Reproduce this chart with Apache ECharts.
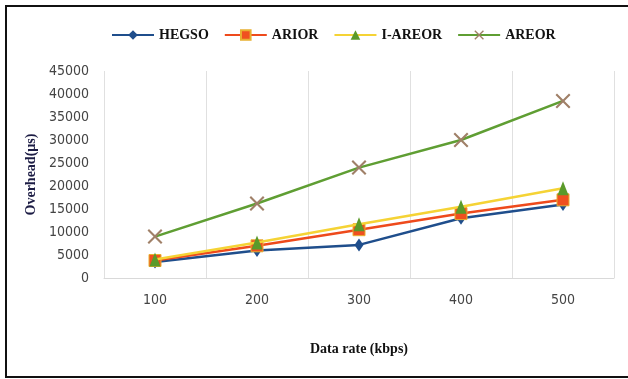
<!DOCTYPE html>
<html>
<head>
<meta charset="utf-8">
<script src="https://cdn.jsdelivr.net/npm/echarts@6/dist/echarts.min.js"></script>
<style>
html,body{margin:0;padding:0;background:#fff;}
#c{width:628px;height:379px;}
</style>
</head>
<body>
<div id="c"></div>
<script>
const categories = ['100', '200', '300', '400', '500'];
const hegso  = [3500, 6000, 7200, 13000, 16000];
const arior  = [3800, 7000, 10500, 14000, 17000];
const iareor = [4000, 7700, 11700, 15500, 19500];
const areor  = [9000, 16200, 24000, 30000, 38500];
const yTicks = [0, 5000, 10000, 15000, 20000, 25000, 30000, 35000, 40000, 45000];

const xPath = 'path://M0,1 L1,0 L5,4 L9,0 L10,1 L6,5 L10,9 L9,10 L5,6 L1,10 L0,9 L4,5 Z';
const serif = "'Liberation Serif','Times New Roman',serif";
const narrow = "'Liberation Sans Narrow','Arial Narrow','DejaVu Sans Condensed',sans-serif";

const chart = echarts.init(document.getElementById('c'), null, {renderer: 'canvas'});
chart.setOption({
  animation: false,
  backgroundColor: '#fff',
  graphic: [{
    type: 'rect', silent: true, z: 100,
    shape: {x: 6, y: 6, width: 640, height: 371},
    style: {fill: 'none', stroke: '#111', lineWidth: 2}
  }],
  legend: {
    top: 23, left: 106,
    itemWidth: 42, itemHeight: 12, itemGap: 15,
    textStyle: {fontFamily: serif, fontWeight: 'bold', fontSize: 14, color: '#111'},
    data: ['HEGSO', 'ARIOR', 'I-AREOR', 'AREOR']
  },
  grid: {left: 104, right: 14, top: 71, bottom: 101},
  xAxis: {
    type: 'category',
    data: categories,
    boundaryGap: true,
    name: 'Data rate (kbps)',
    nameLocation: 'middle',
    nameGap: 64,
    nameTextStyle: {fontFamily: serif, fontWeight: 'bold', fontSize: 14, color: '#111'},
    axisLine: {lineStyle: {color: '#d9d9d9', width: 1}},
    axisTick: {show: false},
    axisLabel: {fontFamily: narrow, fontSize: 14, color: '#444', margin: 15},
    splitLine: {show: true, lineStyle: {color: '#e0e0e0', width: 1}}
  },
  yAxis: {
    type: 'value',
    min: 0, max: 45000, interval: 5000,
    name: 'Overhead(µs)',
    nameLocation: 'middle',
    nameGap: 62,
    nameRotate: 90,
    nameTextStyle: {fontFamily: serif, fontWeight: 'bold', fontSize: 14, color: '#1c1c44'},
    axisLine: {show: false},
    axisTick: {show: false},
    axisLabel: {fontFamily: narrow, fontSize: 14, color: '#444', margin: 15,
      formatter: v => yTicks.indexOf(v) >= 0 ? String(v) : ''},
    splitLine: {show: false}
  },
  series: [
    {
      name: 'HEGSO', type: 'line', data: hegso, z: 2,
      symbol: 'diamond', symbolSize: [9, 13],
      lineStyle: {color: '#1f4e8c', width: 2.5},
      itemStyle: {color: '#1f4e8c'}
    },
    {
      name: 'ARIOR', type: 'line', data: arior, z: 3,
      symbol: 'rect', symbolSize: 12,
      lineStyle: {color: '#ee4a1c', width: 2.5},
      itemStyle: {color: '#f05020', borderColor: '#e8b030', borderWidth: 1}
    },
    {
      name: 'I-AREOR', type: 'line', data: iareor, z: 4,
      symbol: 'triangle', symbolSize: [11, 14],
      lineStyle: {color: '#f5d335', width: 2.5},
      itemStyle: {color: '#5a9a2a'}
    },
    {
      name: 'AREOR', type: 'line', data: areor, z: 5,
      symbol: xPath, symbolSize: 15,
      lineStyle: {color: '#5f9e33', width: 2.5},
      itemStyle: {color: '#a08068'}
    }
  ]
});
</script>
</body>
</html>
